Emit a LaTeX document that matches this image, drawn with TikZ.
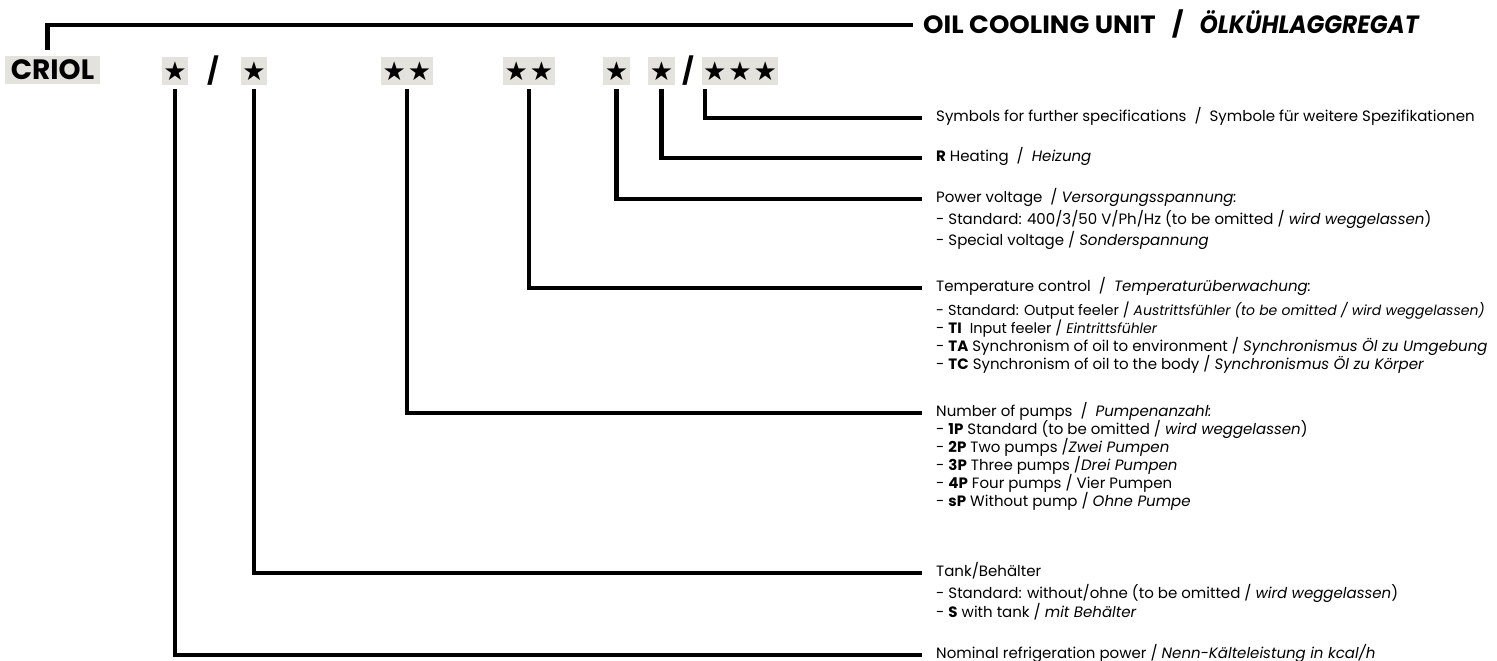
\documentclass[tikz,border=0pt]{standalone}
\usepackage{fontspec}
\setmainfont{Poppins}
\newfontfamily\titlefont{Poppins}[FakeStretch=1.04]
\newfontfamily\titleitfont{Poppins}[FakeStretch=0.93]
\newfontfamily\widefont{Poppins}
\newfontfamily\symfont{DejaVu Sans}
\definecolor{boxgray}{RGB}{228,226,220}
\newcommand{\st}{{\symfont ★}}
\newcommand{\sm}[1]{{\fontsize{14}{16}\selectfont #1}}
\begin{document}
\begin{tikzpicture}[x=1pt,y=-1pt,
  codebox/.style={fill=boxgray, minimum height=28pt, inner sep=0pt, anchor=center, font=\fontsize{26}{26}\selectfont},
  slashtxt/.style={inner sep=0pt, font=\widefont\bfseries\fontsize{26}{26}\selectfont},
  desc/.style={anchor=west, inner sep=0pt, font=\fontsize{15}{18}\selectfont, text height=11pt, text depth=3.5pt},
  conn/.style={line width=4.2pt, shorten <=4pt, shorten >=14pt}]
\useasboundingbox (0,0) rectangle (1497,661);

% code line
\node[codebox, minimum width=95pt, font=\widefont\bfseries\fontsize{28}{28}\selectfont] (criol) at (52.5,70) {CRIOL};
\node[codebox, minimum width=26pt] (s1) at (175,71) {\st};
\node[slashtxt] (sl1) at (213,71) {/};
\node[codebox, minimum width=26pt] (s2) at (254,71) {\st};
\node[codebox, minimum width=52pt] (d1) at (407,71) {\st\hspace{2pt}\st};
\node[codebox, minimum width=52pt] (d2) at (529,71) {\st\hspace{2pt}\st};
\node[codebox, minimum width=27pt] (s3) at (616.5,71) {\st};
\node[codebox, minimum width=27pt] (s4) at (661.5,71) {\st};
\node[slashtxt] (sl2) at (688,71) {/};
\node[codebox, minimum width=76pt] (t3) at (740,71) {\st\hspace{2pt}\st\hspace{2pt}\st};

% title
\node[anchor=west, inner sep=0pt, text height=17pt, text depth=0pt, font=\titlefont\bfseries\fontsize{25}{25}\selectfont] (title) at (923,25) {OIL COOLING UNIT\hspace{16pt}/\hspace{16pt}{\titleitfont\bfseries\itshape ÖLKÜHLAGGREGAT}};

% descriptions
\node[desc] (sym) at (936,118) {Symbols for further specifications \ / \ Symbole für weitere Spezifikationen};
\node[desc] (heat) at (936,158) {\textbf{R} Heating \ / \ \textit{Heizung}};
\node[desc] (pow) at (936,199) {Power voltage \ / \textit{Versorgungsspannung:}};
\node[desc] (pow1) at (936,221) {- Standard: 400/3/50 V/Ph/Hz (to be omitted / \textit{wird weggelassen})};
\node[desc] (pow2) at (936,242) {- Special voltage / \textit{Sonderspannung}};
\node[desc] (temp) at (936,288) {Temperature control \ / \ \textit{Temperaturüberwachung:}};
\node[desc] (temp1) at (936,312) {{\fontsize{14.5}{16}\selectfont - Standard: Output feeler /} \sm{\textit{Austrittsfühler (to be omitted / wird weggelassen)}}};
\node[desc] (temp2) at (936,330) {- \textbf{TI} \ {\fontsize{14.5}{16}\selectfont Input feeler /} \sm{\textit{Eintrittsfühler}}};
\node[desc] (temp3) at (936,348) {- \textbf{TA} Synchronism of oil to environment / \textit{Synchronismus Öl zu Umgebung}};
\node[desc] (temp4) at (936,366) {- \textbf{TC} Synchronism of oil to the body / \textit{Synchronismus Öl zu Körper}};
\node[desc] (pump) at (936,413) {Number of pumps \ / \ \textit{Pumpenanzahl:}};
\node[desc] (pump1) at (936,431) {- \textbf{1P} Standard (to be omitted / \textit{wird weggelassen})};
\node[desc] (pump2) at (936,449) {- \textbf{2P} Two pumps /\textit{Zwei Pumpen}};
\node[desc] (pump3) at (936,467) {- \textbf{3P} Three pumps /\textit{Drei Pumpen}};
\node[desc] (pump4) at (936,485) {- \textbf{4P} Four pumps / Vier Pumpen};
\node[desc] (pump5) at (936,503) {- \textbf{sP} Without pump / \textit{Ohne Pumpe}};
\node[desc] (tank) at (936,573) {Tank/Behälter};
\node[desc] (tank1) at (936,595) {- Standard: without/ohne (to be omitted / \textit{wird weggelassen})};
\node[desc] (tank2) at (936,614) {- \textbf{S} with tank / \textit{mit Behälter}};
\node[desc] (nom) at (936,655) {Nominal refrigeration power / \textit{Nenn-Kälteleistung in kcal/h}};

% connectors
\draw[conn, shorten <=6pt, shorten >=10pt] ([xshift=-5pt]criol.north) |- (title.west);
\draw[conn] ([xshift=3pt]t3.south west) |- (sym.west);
\draw[conn] (s4.south) |- (heat.west);
\draw[conn] (s3.south) |- (pow.west);
\draw[conn] (d2.south) |- (temp.west);
\draw[conn] (d1.south) |- (pump.west);
\draw[conn] (s2.south) |- (tank.west);
\draw[conn] (s1.south) |- (nom.west);
\end{tikzpicture}
\end{document}
